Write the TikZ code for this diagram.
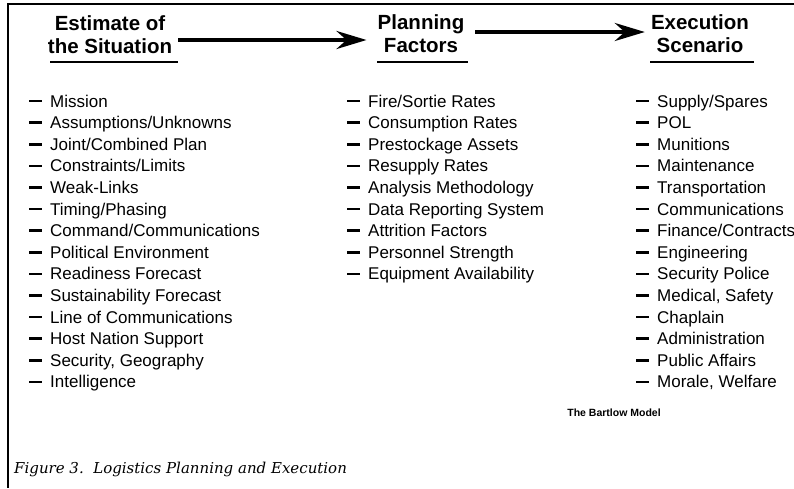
\documentclass[tikz,border=0pt]{standalone}
\usepackage{fontspec}
\setmainfont{Liberation Sans}
\newfontfamily\captionserif{DejaVu Serif}
\usetikzlibrary{positioning,arrows.meta}
\newcommand{\itemdash}{\rule[4.7pt]{13pt}{2.6pt}\hspace{8pt}}

\begin{document}
\begin{tikzpicture}[x=1pt,y=-1pt]
		\tikzstyle{head}=[align=center, inner sep=6pt, font=\fontsize{20.5}{23}\selectfont\bfseries]
		\tikzstyle{item}=[anchor=west, inner sep=0pt, text height=12pt, text depth=0pt, node distance=9.2pt, font=\fontsize{17}{20}\selectfont]
		\tikzstyle{connect}=[-{Stealth[length=30pt,width=18pt,inset=10pt]}, line width=4pt]
		\tikzstyle{uline}=[line width=2.5pt]
		\useasboundingbox (0,0) rectangle (794,488);
		\draw[line width=2pt] (794,4) -- (8,4) -- (8,488);
		% column heads
		\node[head] (est) at (110,35) {Estimate of\\the Situation};
		\node[head] (plan) at (421,34) {Planning\\Factors};
		\node[head] (exec) at (700,34) {Execution\\Scenario};
		\draw[uline] (50,62) -- (178,62);
		\draw[uline] (377,62) -- (468,62);
		\draw[uline] (650,62) -- (754,62);
		\draw[connect, shorten >=5pt] ([yshift=-5pt]est.east) -- ([yshift=-5pt]est.east -| plan.west);
		\draw[connect, shorten <=5pt] ([yshift=2pt]plan.east) -- ([yshift=2pt]plan.east -| exec.west);
		% estimate of the situation
		\node[item] (mission) at (29,101) {\itemdash Mission};
		\node[item, below=of mission.south west, anchor=north west] (assume) {\itemdash Assumptions/Unknowns};
		\node[item, below=of assume.south west, anchor=north west] (joint) {\itemdash Joint/Combined Plan};
		\node[item, below=of joint.south west, anchor=north west] (limits) {\itemdash Constraints/Limits};
		\node[item, below=of limits.south west, anchor=north west] (weak) {\itemdash Weak-Links};
		\node[item, below=of weak.south west, anchor=north west] (timing) {\itemdash Timing/Phasing};
		\node[item, below=of timing.south west, anchor=north west] (command) {\itemdash Command/Communications};
		\node[item, below=of command.south west, anchor=north west] (political) {\itemdash Political Environment};
		\node[item, below=of political.south west, anchor=north west] (readiness) {\itemdash Readiness Forecast};
		\node[item, below=of readiness.south west, anchor=north west] (sustain) {\itemdash Sustainability Forecast};
		\node[item, below=of sustain.south west, anchor=north west] (loc) {\itemdash Line of Communications};
		\node[item, below=of loc.south west, anchor=north west] (host) {\itemdash Host Nation Support};
		\node[item, below=of host.south west, anchor=north west] (geo) {\itemdash Security, Geography};
		\node[item, below=of geo.south west, anchor=north west] (intel) {\itemdash Intelligence};
		% planning factors
		\node[item] (sortie) at (347,101) {\itemdash Fire/Sortie Rates};
		\node[item, below=of sortie.south west, anchor=north west] (consume) {\itemdash Consumption Rates};
		\node[item, below=of consume.south west, anchor=north west] (prestock) {\itemdash Prestockage Assets};
		\node[item, below=of prestock.south west, anchor=north west] (resupply) {\itemdash Resupply Rates};
		\node[item, below=of resupply.south west, anchor=north west] (method) {\itemdash Analysis Methodology};
		\node[item, below=of method.south west, anchor=north west] (report) {\itemdash Data Reporting System};
		\node[item, below=of report.south west, anchor=north west] (attrition) {\itemdash Attrition Factors};
		\node[item, below=of attrition.south west, anchor=north west] (strength) {\itemdash Personnel Strength};
		\node[item, below=of strength.south west, anchor=north west] (equip) {\itemdash Equipment Availability};
		% execution scenario
		\node[item] (supply) at (636,101) {\itemdash Supply/Spares};
		\node[item, below=of supply.south west, anchor=north west] (pol) {\itemdash POL};
		\node[item, below=of pol.south west, anchor=north west] (munitions) {\itemdash Munitions};
		\node[item, below=of munitions.south west, anchor=north west] (maint) {\itemdash Maintenance};
		\node[item, below=of maint.south west, anchor=north west] (transport) {\itemdash Transportation};
		\node[item, below=of transport.south west, anchor=north west] (comms) {\itemdash Communications};
		\node[item, below=of comms.south west, anchor=north west] (finance) {\itemdash Finance/Contracts};
		\node[item, below=of finance.south west, anchor=north west] (eng) {\itemdash Engineering};
		\node[item, below=of eng.south west, anchor=north west] (police) {\itemdash Security Police};
		\node[item, below=of police.south west, anchor=north west] (medical) {\itemdash Medical, Safety};
		\node[item, below=of medical.south west, anchor=north west] (chaplain) {\itemdash Chaplain};
		\node[item, below=of chaplain.south west, anchor=north west] (admin) {\itemdash Administration};
		\node[item, below=of admin.south west, anchor=north west] (affairs) {\itemdash Public Affairs};
		\node[item, below=of affairs.south west, anchor=north west] (morale) {\itemdash Morale, Welfare};
		\node[font=\fontsize{10.5}{12}\selectfont\bfseries] (model) at (614,413) {The Bartlow Model};
		\node[anchor=west, inner sep=0pt, font=\captionserif\itshape\fontsize{15}{17}\selectfont] (caption) at (14,469) {Figure 3.\ \ Logistics Planning and Execution};
\end{tikzpicture}
\end{document}
